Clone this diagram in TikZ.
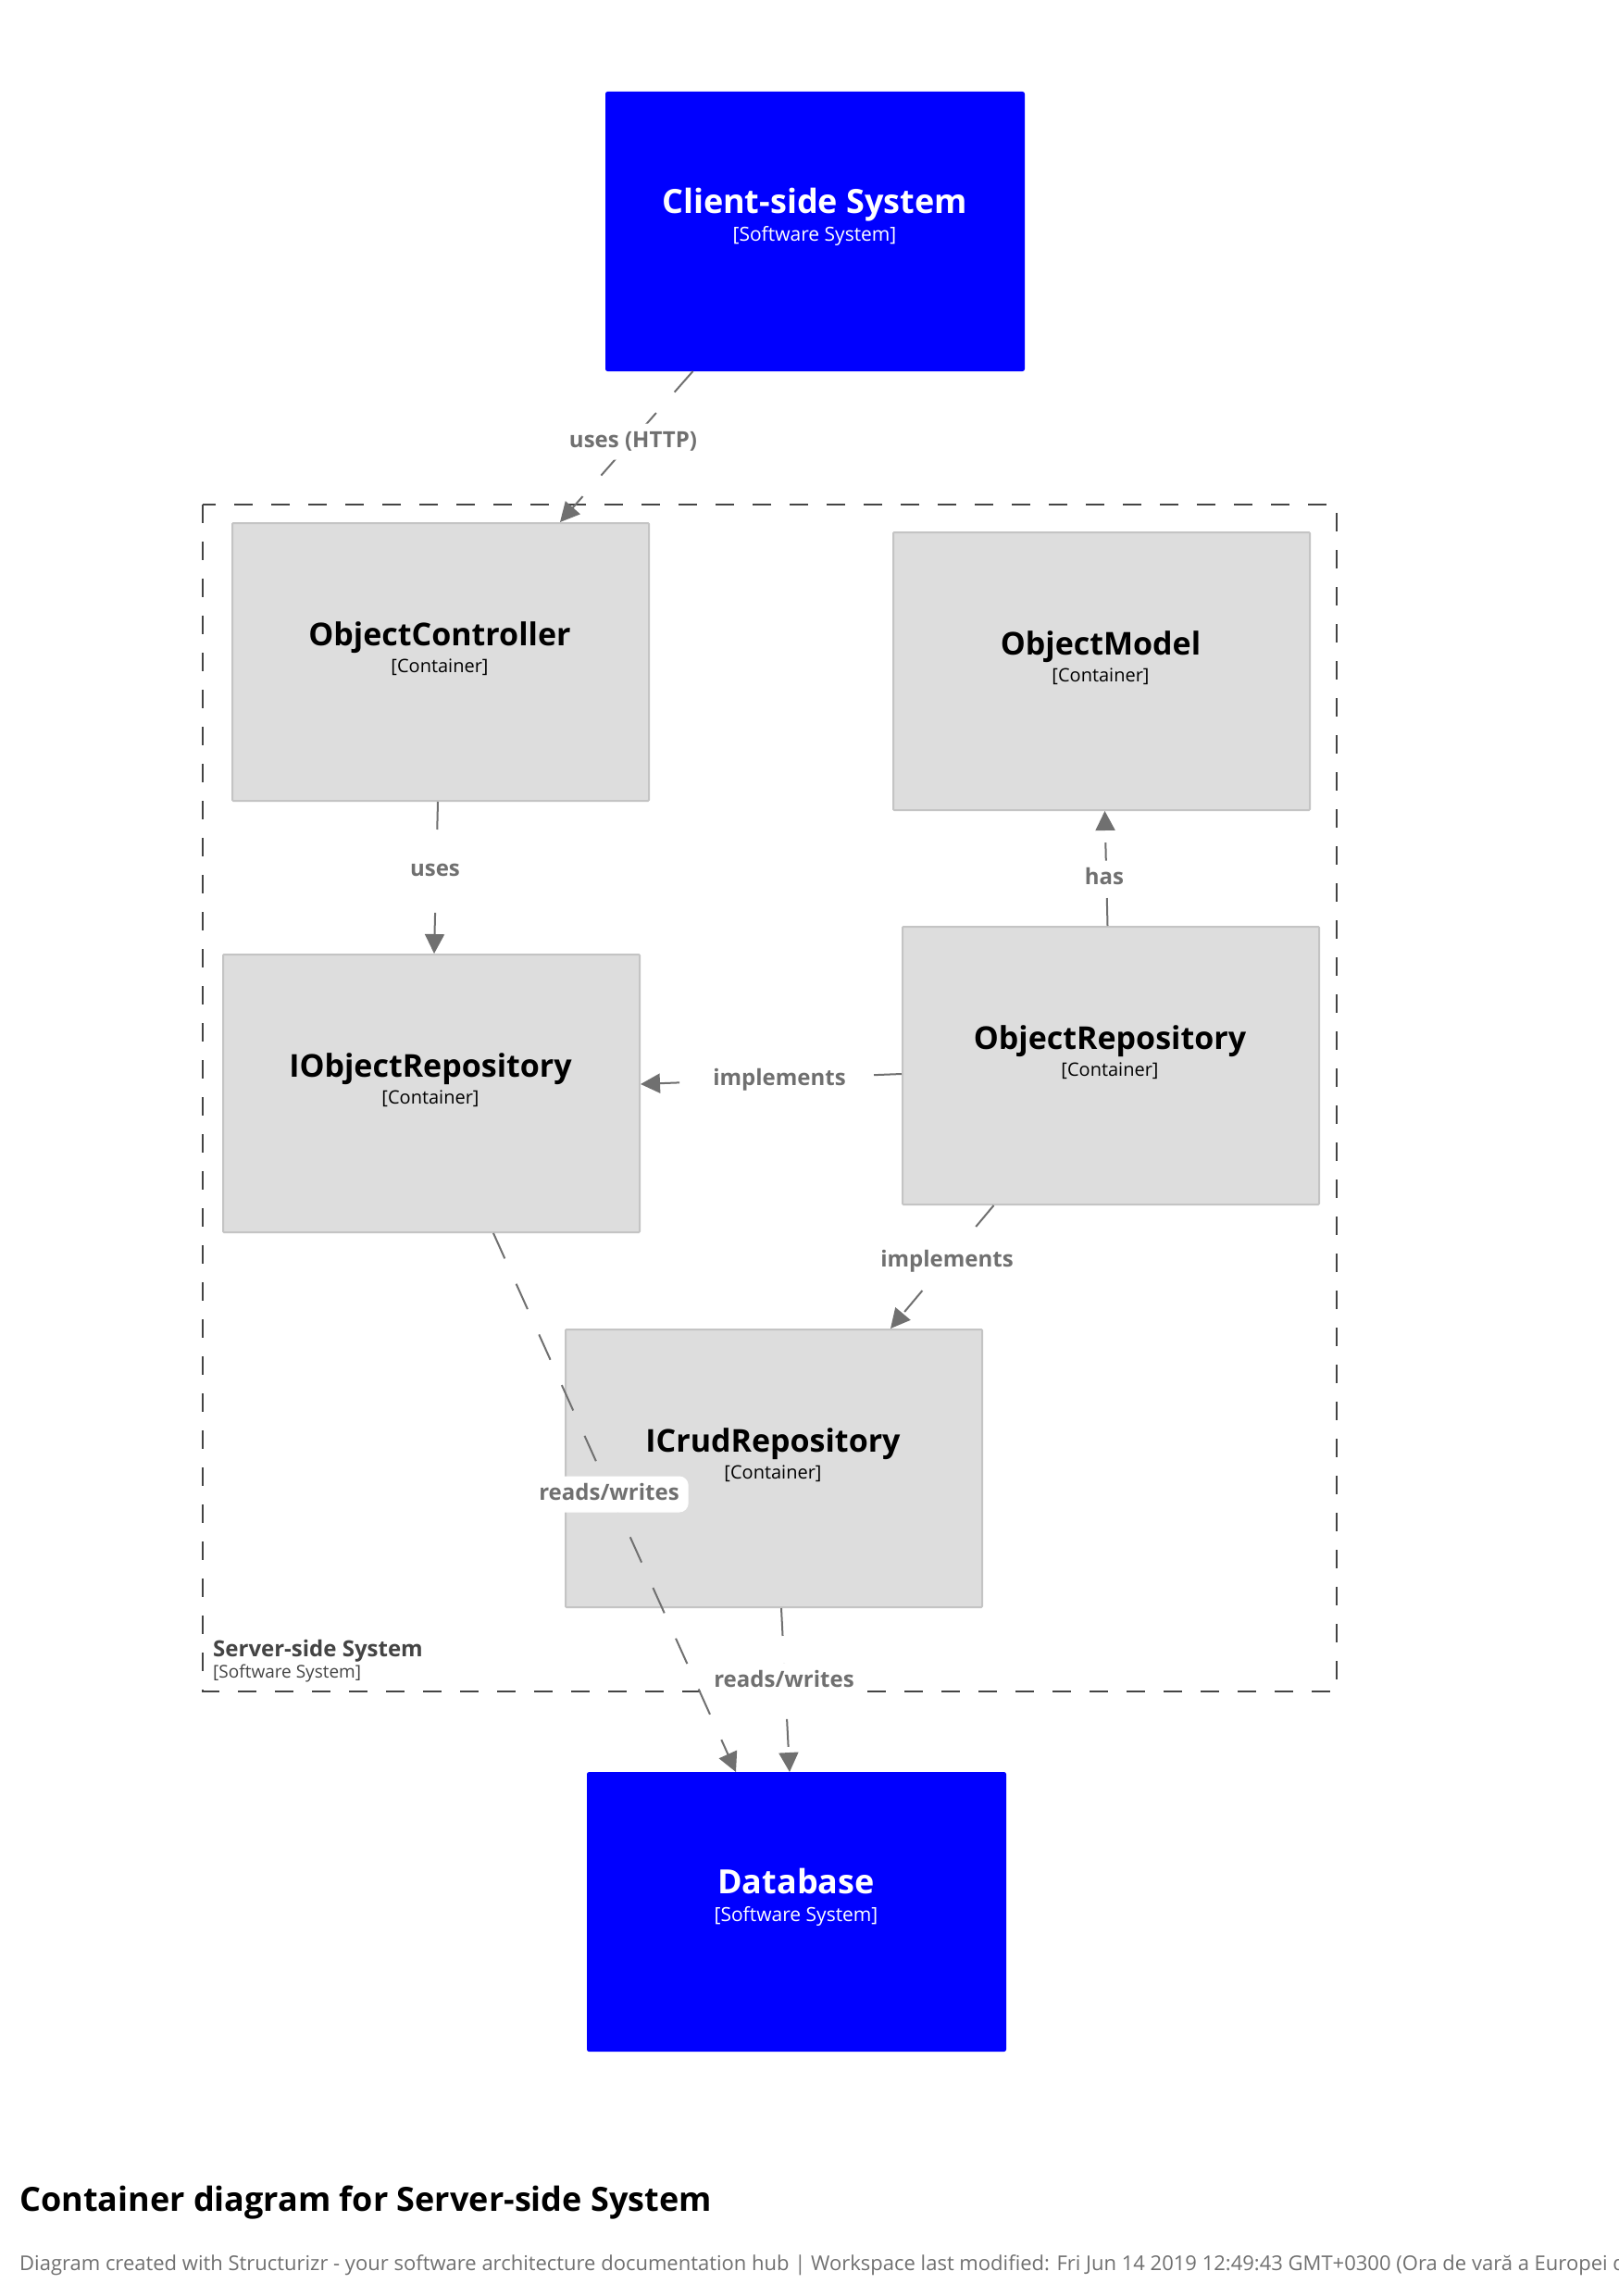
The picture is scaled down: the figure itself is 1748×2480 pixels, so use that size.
\documentclass[tikz,border=0pt]{standalone}
\usepackage{fontspec}
\setmainfont{Open Sans}
\usetikzlibrary{arrows.meta}
\definecolor{sysblue}{HTML}{0000FF}
\definecolor{contgray}{HTML}{DDDDDD}
\definecolor{contborder}{HTML}{C4C4C4}
\definecolor{linegray}{HTML}{707070}
\definecolor{boundgray}{HTML}{444444}
\tikzset{
  sysbox/.style={draw=sysblue, fill=sysblue, line width=1pt, rounded corners=2pt,
    minimum width=452pt, minimum height=301pt, inner sep=0pt, anchor=north west},
  contbox/.style={draw=contborder, fill=contgray, line width=2pt, rounded corners=1pt,
    minimum width=450pt, minimum height=300pt, inner sep=0pt, anchor=north west},
  nametxt/.style={anchor=base, font=\bfseries\fontsize{34}{40}\selectfont, inner sep=0pt},
  sysname/.style={anchor=base, font=\bfseries\fontsize{36}{42}\selectfont, inner sep=0pt, text=white},
  metatxt/.style={anchor=base, font=\fontsize{20}{24}\selectfont, inner sep=0pt},
  rel/.style={draw=linegray, line width=2pt, dash pattern=on 30pt off 30pt,
    -{Triangle[length=21pt,width=21pt]}},
  rellabel/.style={fill=white, rounded corners=10pt, text=linegray, inner xsep=10pt,
    inner ysep=8pt, font=\bfseries\fontsize{24}{28}\selectfont, text height=18pt, text depth=5pt},
}
\begin{document}
\begin{tikzpicture}[x=1pt,y=-1pt]
\clip (0,0) rectangle (1748,2480);
\fill[white] (0,0) rectangle (1748,2480);
% boundary
\draw[boundgray, line width=2.5pt, dash pattern=on 20pt off 20pt] (219,545) rectangle (1444,1827);
\node[anchor=base west, inner sep=0pt, text=boundgray, font=\bfseries\fontsize{24}{28}\selectfont] (bname) at (230,1789) {Server-side System};
\node[anchor=base west, inner sep=0pt, text=boundgray, font=\fontsize{19}{23}\selectfont] (bmeta) at (230,1812) {[Software System]};

% systems
\node[sysbox] (client) at (654,99) {};
\node[sysname] (clientn) at (880,231) {Client-side System};
\node[metatxt, text=white, font=\fontsize{21}{25}\selectfont] (clientm) at (880,261) {[Software System]};

\node[sysbox] (db) at (634,1914) {};
\node[sysname] (dbn) at (860,2045) {Database};
\node[metatxt, text=white, font=\fontsize{21}{25}\selectfont] (dbm) at (860,2075) {[Software System]};

% containers
\node[contbox] (ctrl) at (250,564) {};
\node[nametxt] (ctrln) at (475,697) {ObjectController};
\node[metatxt] (ctrlm) at (475,726) {[Container]};

\node[contbox] (model) at (964,574) {};
\node[nametxt] (modeln) at (1189,707) {ObjectModel};
\node[metatxt] (modelm) at (1189,736) {[Container]};

\node[contbox] (irepo) at (240,1030) {};
\node[nametxt] (irepon) at (465,1163) {IObjectRepository};
\node[metatxt] (irepom) at (465,1192) {[Container]};

\node[contbox] (repo) at (974,1000) {};
\node[nametxt] (repon) at (1199,1133) {ObjectRepository};
\node[metatxt] (repom) at (1199,1162) {[Container]};

\node[contbox] (crud) at (610,1435) {};
\node[nametxt] (crudn) at (835,1568) {ICrudRepository};
\node[metatxt] (crudm) at (835,1597) {[Container]};

% relationships
\draw[rel] ([xshift=-132pt]client.south) -- ([xshift=129pt]ctrl.north);
\draw[rel] ([xshift=-3pt]ctrl.south) -- ([xshift=3pt]irepo.north);
\draw[rel] ([xshift=-3.5pt]repo.north) -- ([xshift=3.5pt]model.south);
\draw[rel] ([yshift=-9pt]repo.west) -- ([yshift=10pt]irepo.east);
\draw[rel] ([xshift=-126.5pt]repo.south) -- ([xshift=126pt]crud.north);
\draw[rel] ([xshift=67pt]irepo.south) -- ([xshift=-65.5pt]db.north);
\draw[rel] ([xshift=8pt]crud.south) -- ([xshift=-7.5pt]db.north);

% labels
\node[rellabel] (l1) at (684,477) {uses (HTTP)};
\node[rellabel] (l2) at (470,940) {uses};
\node[rellabel] (l3) at (1193,949) {has};
\node[rellabel] (l4) at (842,1166) {implements};
\node[rellabel] (l5) at (1023,1362) {implements};
\node[rellabel] (l6) at (658,1614) {reads/writes};
\node[rellabel] (l7) at (847,1816) {reads/writes};

% title and footer
\node[anchor=base west, inner sep=0pt, font=\bfseries\fontsize{36}{42}\selectfont] (title) at (21,2388) {Container diagram for Server-side System};
\node[anchor=base west, inner sep=0pt, text=linegray, font=\fontsize{22}{26}\selectfont] (footer) at (21,2452) {Diagram created with Structurizr - your software architecture documentation hub | Workspace last modified: Fri Jun 14 2019 12:49:43 GMT+0300 (Ora de vară a Europei de Est)};
\end{tikzpicture}
\end{document}
